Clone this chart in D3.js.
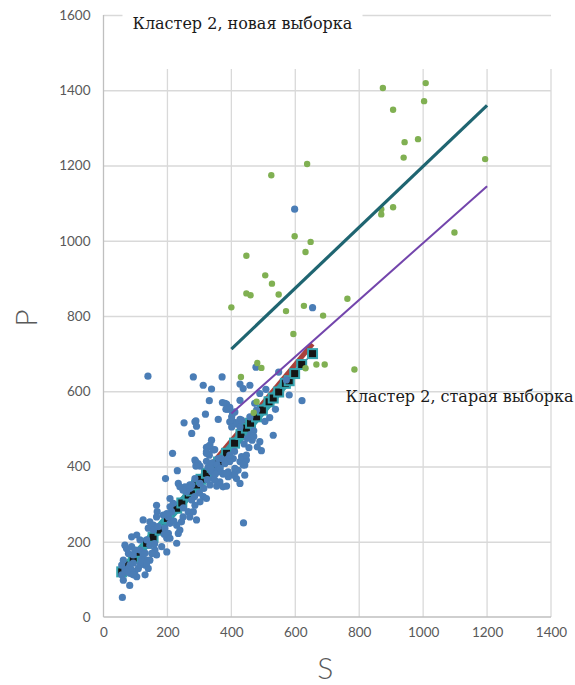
<!DOCTYPE html>
<html>
<head>
<meta charset="utf-8">
<script src="https://cdn.jsdelivr.net/npm/d3@7"></script>
<style>
  body { margin: 0; background: #fff; }
  svg { display: block; }
</style>
</head>
<body>
<svg id="chart" width="575" height="685"></svg>
<script>
// ticks
const xTicks = [0, 200, 400, 600, 800, 1000, 1200, 1400];
const yTicks = [0, 200, 400, 600, 800, 1000, 1200, 1400, 1600];

// labels
const xTitle = 'S';
const yTitle = 'P';
const titleNew = 'Кластер 2, новая выборка';
const titleOld = 'Кластер 2, старая выборка';

// blue points: [S, P]
const bluePoints = [
  [139,640],[598,1084],[654,822],[438,250],[59,52],[82,84],
  [281,638],[371,638],[312,616],[338,606],[331,575],[380,568],[390,552],[319,539],[359,525],
  [252,516],[289,521],[291,507],[276,488],[338,470],[322,451],[348,445],[216,435],[231,389],
  [194,368],[288,414],[302,401],[322,414],[338,386],[369,421],[390,421],[406,377],[416,368],
  [442,377],[385,348],[354,348],[427,576],[437,607],[458,616],[427,619],[473,568],[479,550],
  [401,532],[406,519],[372,570],[385,566],[395,557],[383,552],[427,525],[401,521],[416,513],
  [489,466],[481,452],[494,442],[531,483],[442,404],[411,382],[374,380],[390,386],[421,390],
  [447,417],[427,413],[432,426],[447,430],[477,664],[548,651],[621,575],[581,590],[538,552],
  [489,594],[508,605],[404,541],[411,545],[286,519],[395,519],[401,505],[424,519],[427,505],
  [327,452],[322,439],[343,444],[331,430],[406,421],[437,404],[411,395],[395,413],[286,417],
  [296,408],[289,401],[327,398],[354,390],[374,382],[390,373],[427,355],[343,368],[364,359],
  [374,346],[286,368],[270,351],[302,355],[255,346],[333,457],[322,435],[359,421],[359,386],
  [348,364],[333,351],[314,342],[312,320],[322,315],[302,306],[286,297],[276,311],[281,280],
  [265,280],[270,266],[249,266],[244,253],[291,258],[229,244],[239,231],[234,222],[208,249],
  [203,266],[213,280],[198,275],[187,271],[218,302],[208,293],[166,297],[168,280],[166,266],
  [124,258],[145,253],[156,244],[140,236],[156,231],[171,240],[192,236],[203,222],[198,209],
  [208,209],[229,196],[198,173],[182,187],[104,218],[88,213],[114,205],[135,205],[145,191],
  [161,178],[166,165],[151,169],[67,191],[72,182],[88,187],[98,178],[93,165],[78,169],
  [114,178],[124,165],[135,151],[145,151],[119,151],[130,138],[62,151],[57,138],[67,125],
  [78,129],[83,116],[98,120],[104,107],[109,129],[93,143],[114,138],[83,138],[88,125],
  [72,120],[93,112],[57,112],[62,98],[140,129],[130,112],[119,147],[135,143],[234,355],
  [239,346],[276,351],[270,342],[260,333],[249,337],[208,315],[380,408],[385,382],[572,630],
  [432,523],[458,532],[460,485],[470,495],[325,365],[340,410],[355,405],[365,395],[395,430],
  [410,440],[440,460],[450,475],[465,470],[350,380],[335,395],[300,330],[285,320],[250,290],
  [220,255],[190,220],[160,195],[130,170],[455,450],[470,480],[505,520],[520,530]
];

// green points: [S, P]
const greenPoints = [
  [874,1406],[1008,1419],[1003,1371],[906,1348],[942,1262],[984,1270],[939,1221],[1194,1217],
  [906,1089],[869,1084],[869,1070],[1098,1022],[637,1204],[525,1174],[598,1012],[648,997],
  [632,970],[447,960],[506,908],[527,886],[447,860],[460,855],[548,857],[400,823],[627,827],
  [763,846],[571,813],[687,801],[594,752],[785,658],[666,671],[692,671],[632,661],[481,675],
  [494,662],[430,638],[479,572],[470,543]
];

// old sample: squares and band
const oldSquares = [
  [57,120],[75,138],[93,156],[110,172],[135,196],[155,212],[177,231],[200,262],[229,289],
  [245,303],[265,324],[275,335],[291,351],[305,366],[322,382],[340,398],[360,412],[385,435],
  [410,462],[430,485],[447,502],[460,515],[479,532],[497,550],[518,572],[531,582],[548,598],
  [569,621],[581,628],[598,647],[620,671],[654,700]
];
const oldBand = [[57,118],[200,262],[385,435],[575,628]];
const oldFit = [[57,120],[654,726]];

// regression lines
const newFit = [[400,712],[1200,1360]];
const newFit2 = [[400,541],[1200,1145]];

const svg = d3.select('#chart');
const margin = { top: 15, right: 24, bottom: 68, left: 103.5 };
const width = 575, height = 685;

const x = d3.scaleLinear().domain([0, 1400]).range([margin.left, width - margin.right]);
const y = d3.scaleLinear().domain([0, 1600]).range([height - margin.bottom, margin.top]);

const gridColor = '#d9d9d9';
const vTop = 69;

// horizontal gridlines
svg.append('g')
  .attr('transform', 'translate(' + margin.left + ',0)')
  .call(d3.axisLeft(y).tickValues(yTicks.slice(1)).tickSize(-(x(1400) - x(0))).tickFormat(''))
  .call(g => g.select('.domain').remove())
  .call(g => g.selectAll('line').attr('stroke', gridColor).attr('stroke-width', 1.3));

// vertical gridlines
svg.append('g').selectAll('line')
  .data(xTicks.slice(1))
  .join('line')
  .attr('x1', d => x(d)).attr('x2', d => x(d))
  .attr('y1', vTop).attr('y2', y(0))
  .attr('stroke', gridColor).attr('stroke-width', 1.3);

// axis lines
svg.append('line')
  .attr('x1', x(0)).attr('x2', x(0)).attr('y1', y(1600)).attr('y2', y(0))
  .attr('stroke', '#bfbfbf').attr('stroke-width', 1.3);
svg.append('line')
  .attr('x1', x(0)).attr('x2', x(1400)).attr('y1', y(0)).attr('y2', y(0))
  .attr('stroke', '#bfbfbf').attr('stroke-width', 1.3);

// tick labels
const yAxis = svg.append('g')
  .attr('transform', 'translate(' + margin.left + ',0)')
  .call(d3.axisLeft(y).tickValues(yTicks).tickSize(0).tickPadding(13).tickFormat(d3.format('d')));
yAxis.select('.domain').remove();
yAxis.selectAll('text')
  .attr('fill', '#595959').style('font-family', 'Lato, sans-serif').style('font-size', '13.5px');

const xAxis = svg.append('g')
  .attr('transform', 'translate(0,' + y(0) + ')')
  .call(d3.axisBottom(x).tickValues(xTicks).tickSize(0).tickPadding(10).tickFormat(d3.format('d')));
xAxis.select('.domain').remove();
xAxis.selectAll('text')
  .attr('fill', '#595959').style('font-family', 'Lato, sans-serif').style('font-size', '13.5px');

// axis titles
svg.append('text')
  .attr('x', (x(0) + x(1400)) / 2 - 2).attr('y', 679)
  .attr('text-anchor', 'middle')
  .attr('fill', '#595959')
  .style('font-family', 'Lato, sans-serif').style('font-weight', 300).style('font-size', '30px')
  .text(xTitle);
svg.append('text')
  .attr('transform', 'translate(37,' + ((y(0) + y(1600)) / 2 + 2) + ') rotate(-90)')
  .attr('text-anchor', 'middle')
  .attr('fill', '#595959')
  .style('font-family', 'Lato, sans-serif').style('font-weight', 300).style('font-size', '30px')
  .text(yTitle);

// old sample band, fit and squares
const line = d3.line().x(d => x(d[0])).y(d => y(d[1]));

svg.append('path').datum(oldFit)
  .attr('d', line).attr('fill', 'none')
  .attr('stroke', '#a8413b').attr('stroke-width', 5);

svg.append('path').datum(oldBand)
  .attr('d', line).attr('fill', 'none')
  .attr('stroke', '#2e9ca8').attr('stroke-width', 9);

svg.append('path').datum(oldSquares)
  .attr('d', line).attr('fill', 'none')
  .attr('stroke', '#111').attr('stroke-width', 1.5).attr('stroke-dasharray', '3,2');

svg.append('g').selectAll('rect')
  .data(oldSquares)
  .join('rect')
  .attr('x', d => x(d[0]) - 4.5).attr('y', d => y(d[1]) - 4.5)
  .attr('width', 9).attr('height', 9)
  .attr('fill', '#151515').attr('stroke', '#34a2ae').attr('stroke-width', 2);

// blue points
svg.append('g').selectAll('circle')
  .data(bluePoints)
  .join('circle')
  .attr('cx', d => x(d[0])).attr('cy', d => y(d[1]))
  .attr('r', 3.6)
  .attr('fill', '#4a7db6');

// green points
svg.append('g').selectAll('circle')
  .data(greenPoints)
  .join('circle')
  .attr('cx', d => x(d[0])).attr('cy', d => y(d[1]))
  .attr('r', 3.2)
  .attr('fill', '#80b052');

// regression lines
svg.append('path').datum(newFit)
  .attr('d', line).attr('fill', 'none')
  .attr('stroke', '#1f6571').attr('stroke-width', 3.2);
svg.append('path').datum(newFit2)
  .attr('d', line).attr('fill', 'none')
  .attr('stroke', '#7345ac').attr('stroke-width', 2);

// title with white box over the top gridline
svg.append('rect')
  .attr('x', 122.5).attr('y', 4).attr('width', 240).attr('height', 30)
  .attr('fill', '#fff');
svg.append('text')
  .attr('x', 132.5).attr('y', 28.5)
  .attr('fill', '#1a1a1a')
  .style('font-family', '"DejaVu Serif", serif').style('font-size', '16px')
  .text(titleNew);

svg.append('text')
  .attr('x', 345.5).attr('y', 401.5)
  .attr('fill', '#1a1a1a')
  .style('font-family', '"DejaVu Serif", serif').style('font-size', '16px')
  .text(titleOld);
</script>
</body>
</html>
